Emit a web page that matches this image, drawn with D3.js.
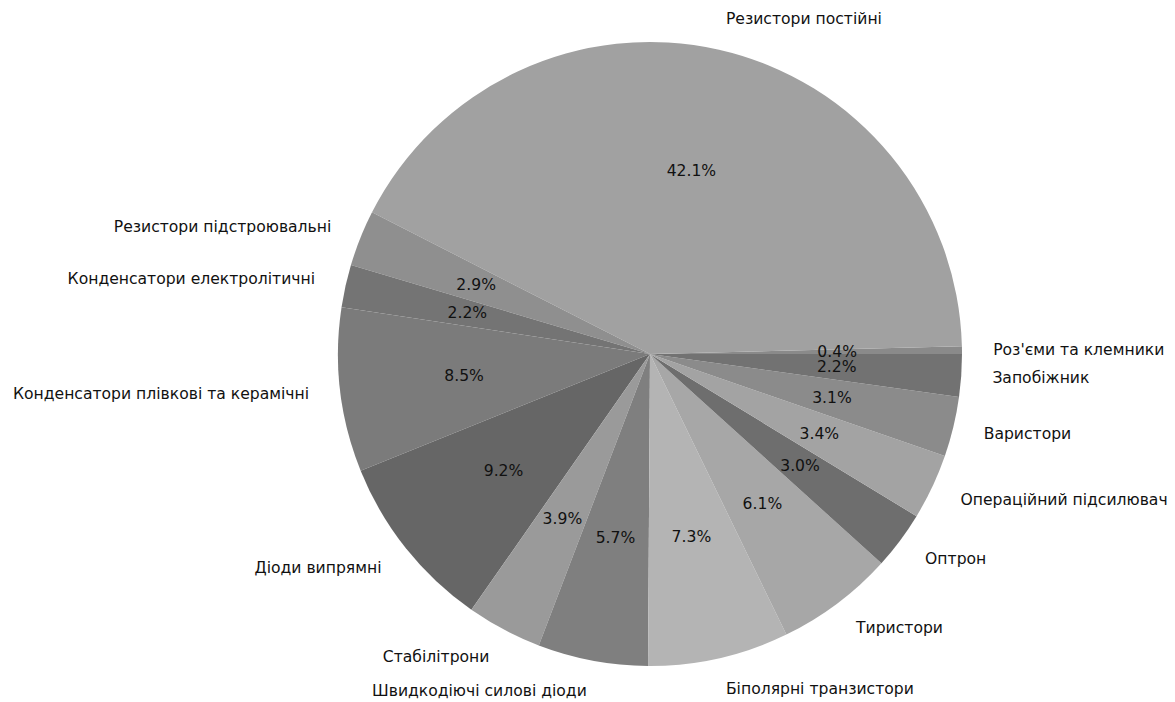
<!DOCTYPE html>
<html>
<head>
<meta charset="utf-8">
<script src="https://cdn.jsdelivr.net/npm/d3@7"></script>
<style>
  html, body { margin: 0; padding: 0; background: #ffffff; }
  svg { display: block; }
  text { font-family: "DejaVu Sans", sans-serif; fill: #111; }
</style>
</head>
<body>
<svg id="chart" width="1175" height="702"></svg>
<script>
// Component categories, listed counter-clockwise from the 3 o'clock position
const categories = [
  "Роз'єми та клемники",
  "Резистори постійні",
  "Резистори підстроювальні",
  "Конденсатори електролітичні",
  "Конденсатори плівкові та керамічні",
  "Діоди випрямні",
  "Стабілітрони",
  "Швидкодіючі силові діоди",
  "Біполярні транзистори",
  "Тиристори",
  "Оптрон",
  "Операційний підсилювач",
  "Варистори",
  "Запобіжник"
];

// Share of each category, percent
const shares = [0.4, 42.1, 2.9, 2.2, 8.5, 9.2, 3.9, 5.7, 7.3, 6.1, 3.0, 3.4, 3.1, 2.2];

// Grey fill of each wedge
const fills = [
  "#8a8a8a", "#a1a1a1", "#8f8f8f", "#747474", "#7b7b7b", "#666666", "#9a9a9a",
  "#7f7f7f", "#b4b4b4", "#a7a7a7", "#6e6e6e", "#a3a3a3", "#8b8b8b", "#727272"
];

const svg = d3.select("#chart");
const cx = 650, cy = 354, radius = 312;

const data = categories.map((name, i) => ({ name, value: shares[i], fill: fills[i] }));

// d3 angles run clockwise from 12 o'clock; start at 3 o'clock and sweep counter-clockwise
const pie = d3.pie()
  .sort(null)
  .value(d => d.value)
  .startAngle(Math.PI / 2)
  .endAngle(Math.PI / 2 - 2 * Math.PI);

const arcs = pie(data);
const arc = d3.arc().innerRadius(0).outerRadius(radius);

const g = svg.append("g").attr("transform", `translate(${cx},${cy})`);

g.selectAll("path.wedge")
  .data(arcs)
  .join("path")
  .attr("class", "wedge")
  .attr("d", arc)
  .attr("fill", d => d.data.fill);

const labelR = radius * 1.1;
const pctR = radius * 0.6;
const mid = d => (d.startAngle + d.endAngle) / 2;

// Category names outside the pie
g.selectAll("text.name")
  .data(arcs)
  .join("text")
  .attr("class", "name")
  .attr("x", d => labelR * Math.sin(mid(d)))
  .attr("y", d => -labelR * Math.cos(mid(d)))
  .attr("text-anchor", d => Math.sin(mid(d)) > 0 ? "start" : "end")
  .attr("dominant-baseline", "central")
  .style("font-size", "15.6px")
  .text(d => d.data.name);

// Percentages inside the wedges
g.selectAll("text.pct")
  .data(arcs)
  .join("text")
  .attr("class", "pct")
  .attr("x", d => pctR * Math.sin(mid(d)))
  .attr("y", d => -pctR * Math.cos(mid(d)))
  .attr("text-anchor", "middle")
  .attr("dominant-baseline", "central")
  .style("font-size", "15.6px")
  .text(d => d.data.value.toFixed(1) + "%");
</script>
</body>
</html>
